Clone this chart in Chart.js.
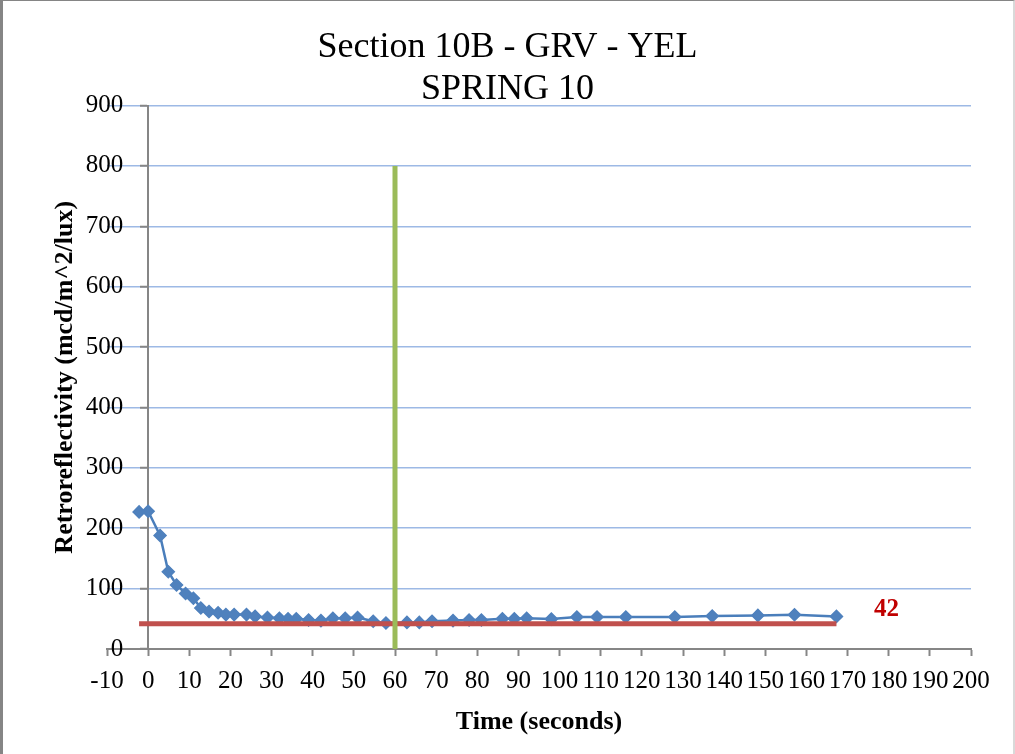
<!DOCTYPE html>
<html>
<head>
<meta charset="utf-8">
<script src="https://cdn.jsdelivr.net/npm/chart.js@4"></script>
<style>
  body { margin: 0; background: #fff; }
  #wrap { position: relative; width: 1015px; height: 754px; }
  #frame { position: absolute; left: 0; top: 0; right: 0; bottom: 0; box-sizing: border-box;
           border-top: 1px solid #858585; border-left: 3px solid #858585; border-right: 2px solid #d9d9d9; pointer-events: none; }
</style>
</head>
<body>
<div id="wrap">
  <canvas id="myChart" width="1015" height="754"></canvas>
  <div id="frame"></div>
</div>
<script>
// readings of the time series (seconds, mcd/m^2/lux)
const times = [-2.2, 0, 2.9, 4.9, 6.9, 9.1, 11, 12.8, 14.8, 17, 18.9, 20.9, 23.9, 26, 29, 31.9, 34, 36, 39, 42,
               44.9, 47.9, 50.9, 54.7, 57.8, 62.9, 65.9, 69, 74.1, 78, 81, 86.1, 89, 92, 98,
               104.2, 109.1, 116.1, 128, 137.1, 148.2, 157.1, 167.3];
const values = [227, 228, 188, 128, 106, 92, 84, 68, 62, 60, 57, 57, 57, 54, 52, 51, 50, 50, 48, 47,
                51, 51, 52, 46, 43, 44, 44, 46, 47, 48, 48, 50, 50, 51, 49.5,
                53, 53, 53, 53, 54.5, 55.6, 56.7, 54];

// threshold line (red) and 60 s marker (green)
const thresholdX = [-2.2, 167.3];
const thresholdY = [42, 42];
const markerX = [60, 60];
const markerY = [0, 800];

const titleLines = ['Section 10B - GRV - YEL', 'SPRING 10'];
const xTitle = 'Time (seconds)';
const yTitle = 'Retroreflectivity (mcd/m^2/lux)';

const serif = "'Liberation Serif', 'Times New Roman', serif";
const axisGray = '#868686';
const gridBlue = '#9DB9E5';

const toPoints = (xs, ys) => xs.map((x, i) => ({ x: x, y: ys[i] }));

// value label next to the end of the threshold line
const thresholdLabel = {
    id: 'thresholdLabel',
    afterDraw(chart) {
        const { ctx, scales } = chart;
        ctx.save();
        ctx.font = 'bold 25px ' + serif;
        ctx.fillStyle = '#C00000';
        ctx.textAlign = 'center';
        ctx.textBaseline = 'middle';
        const lx = scales.x.getPixelForValue(thresholdX[1]) + 50;
        const ly = scales.y.getPixelForValue(thresholdY[1]) - 14;
        ctx.fillText(String(thresholdY[1]), lx, ly);
        ctx.restore();
    }
};

const ctx = document.getElementById('myChart').getContext('2d');
new Chart(ctx, {
    type: 'scatter',
    data: {
        datasets: [
            {
                label: 'marker',
                data: toPoints(markerX, markerY),
                xAxisID: 'x',
                yAxisID: 'y',
                showLine: true,
                borderColor: '#9BBB59',
                borderWidth: 5,
                pointRadius: 0,
                order: 0
            },
            {
                label: 'threshold',
                data: toPoints(thresholdX, thresholdY),
                xAxisID: 'x',
                yAxisID: 'y',
                showLine: true,
                borderColor: '#C0504D',
                borderWidth: 5,
                pointRadius: 0,
                order: 1
            },
            {
                label: 'readings',
                data: toPoints(times, values),
                xAxisID: 'x',
                yAxisID: 'y',
                showLine: true,
                borderColor: '#4A7EBB',
                borderWidth: 2.5,
                pointStyle: 'rectRot',
                pointRadius: 6,
                pointBackgroundColor: '#4F81BD',
                pointBorderColor: '#4F81BD',
                pointBorderWidth: 1.5,
                order: 2
            }
        ]
    },
    options: {
        responsive: false,
        animation: false,
        layout: {
            padding: { left: 44, right: 44, top: 26.5, bottom: 16.4 }
        },
        plugins: {
            legend: { display: false },
            tooltip: { enabled: false },
            title: {
                display: true,
                text: titleLines,
                color: '#000',
                font: { family: serif, size: 36, weight: 'normal', lineHeight: 1.1667 },
                padding: { top: 0, bottom: -5 }
            }
        },
        scales: {
            x: {
                type: 'linear',
                position: 'bottom',
                min: -10,
                max: 200,
                border: { color: axisGray, width: 2 },
                grid: {
                    drawOnChartArea: false,
                    tickLength: 7,
                    tickColor: axisGray,
                    tickWidth: 2
                },
                ticks: {
                    stepSize: 10,
                    autoSkip: false,
                    maxRotation: 0,
                    minRotation: 0,
                    padding: 10,
                    color: '#000',
                    font: { family: serif, size: 25 }
                },
                title: {
                    display: true,
                    text: xTitle,
                    color: '#000',
                    font: { family: serif, size: 26, weight: 'bold' },
                    padding: { top: 0.4, bottom: 0 }
                }
            },
            y: {
                type: 'linear',
                position: { x: 0 },
                min: 0,
                max: 900,
                border: { color: axisGray, width: 2 },
                grid: {
                    color: c => c.tick && c.tick.value === 0 ? 'rgba(0,0,0,0)' : gridBlue,
                    lineWidth: 1.5,
                    tickLength: 7,
                    tickColor: axisGray,
                    tickWidth: 2
                },
                ticks: {
                    stepSize: 100,
                    color: '#000',
                    font: { family: serif, size: 25 },
                    // labels of an axis placed at a value get no padding, so leave the gap as spaces
                    callback: v => v + '\u2002\u2002'
                }
            },
            // empty left axis: only carries the y title and the room left of -10
            yTitle: {
                type: 'linear',
                position: 'left',
                grid: { display: false },
                border: { display: false },
                ticks: { display: false },
                title: {
                    display: true,
                    text: yTitle,
                    color: '#000',
                    font: { family: serif, size: 26, weight: 'bold' },
                    padding: { top: 5.4, bottom: 0 }
                },
                afterFit: s => { s.width = 63; }
            }
        }
    },
    plugins: [thresholdLabel]
});
</script>
</body>
</html>
